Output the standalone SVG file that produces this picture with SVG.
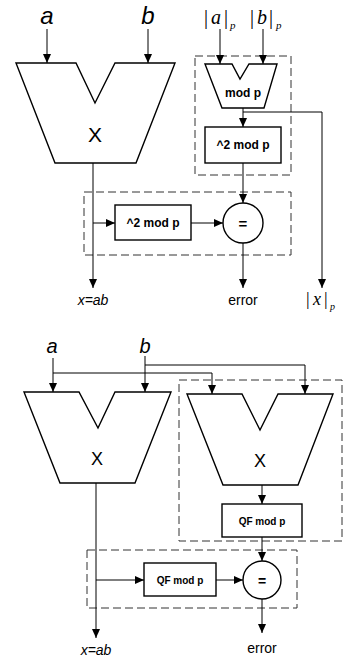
<svg xmlns="http://www.w3.org/2000/svg" width="344" height="659" viewBox="0 0 344 659">
<style>
.sh{fill:#fff;stroke:#000;stroke-width:1.4}
.ln{fill:none;stroke:#000;stroke-width:1}
.dash{fill:none;stroke:#333;stroke-width:1;stroke-dasharray:8,4}
.t{font-family:"Liberation Sans",Arial,sans-serif;fill:#000;text-anchor:middle}
.ti{font-family:"Liberation Sans",Arial,sans-serif;font-style:italic;fill:#000;text-anchor:middle}
.b{font-family:"Liberation Sans",Arial,sans-serif;font-weight:bold;fill:#000;text-anchor:middle}
.serif{font-family:"Liberation Serif","Times New Roman",serif;fill:#000}
</style>
<defs>
<marker id="ah" markerWidth="9" markerHeight="8" refX="9" refY="4" orient="auto" markerUnits="userSpaceOnUse">
<path d="M0,0 L9,4 L0,8 z" fill="#000"/>
</marker>
</defs>

<g id="groups">
<rect class="dash" x="84" y="192" width="207" height="63"/>
<rect class="dash" x="195" y="56" width="96" height="119"/>
<rect class="dash" x="87" y="550" width="210" height="58"/>
<rect class="dash" x="179" y="380" width="163" height="161"/>
</g>

<g id="connectors">
<line class="ln" x1="47" y1="29" x2="47" y2="63" marker-end="url(#ah)"/>
<line class="ln" x1="148" y1="29" x2="148" y2="63" marker-end="url(#ah)"/>
<line class="ln" x1="93" y1="163" x2="93" y2="288" marker-end="url(#ah)"/>
<line class="ln" x1="93" y1="223" x2="115" y2="223" marker-end="url(#ah)"/>
<line class="ln" x1="191" y1="223" x2="223" y2="223" marker-end="url(#ah)"/>
<line class="ln" x1="220" y1="29" x2="220" y2="64" marker-end="url(#ah)"/>
<line class="ln" x1="263" y1="29" x2="263" y2="64" marker-end="url(#ah)"/>
<line class="ln" x1="243" y1="108" x2="243" y2="127" marker-end="url(#ah)"/>
<polyline class="ln" points="243,112 322,112 322,288" marker-end="url(#ah)"/>
<line class="ln" x1="243" y1="163" x2="243" y2="203" marker-end="url(#ah)"/>
<line class="ln" x1="243" y1="243" x2="243" y2="288" marker-end="url(#ah)"/>

<line class="ln" x1="53" y1="358" x2="53" y2="392" marker-end="url(#ah)"/>
<line class="ln" x1="145" y1="356" x2="145" y2="392" marker-end="url(#ah)"/>
<polyline class="ln" points="53,373 212,373 212,394" marker-end="url(#ah)"/>
<polyline class="ln" points="145,365 305,365 305,394" marker-end="url(#ah)"/>
<line class="ln" x1="96" y1="483" x2="96" y2="638" marker-end="url(#ah)"/>
<line class="ln" x1="96" y1="580" x2="144" y2="580" marker-end="url(#ah)"/>
<line class="ln" x1="216" y1="580" x2="243" y2="580" marker-end="url(#ah)"/>
<line class="ln" x1="262" y1="485" x2="262" y2="504" marker-end="url(#ah)"/>
<line class="ln" x1="262" y1="537" x2="262" y2="561" marker-end="url(#ah)"/>
<line class="ln" x1="262" y1="599" x2="262" y2="633" marker-end="url(#ah)"/>
</g>

<g id="in-a1"><text class="ti" x="47" y="24" font-size="24">a</text></g>
<g id="in-b1"><text class="ti" x="148" y="24" font-size="24">b</text></g>
<g id="mult1">
<polygon class="sh" points="16,63 76,63 95,103 115,63 175,63 136,163 55,163"/>
<text class="t" x="95" y="142" font-size="21">X</text>
</g>
<g id="sq1"><rect class="sh" x="115" y="205" width="76" height="35"/><text class="b" x="153" y="227" font-size="12">^2 mod p</text></g>
<g id="eq1"><circle class="sh" cx="243" cy="223" r="20"/><text class="b" x="243" y="229" font-size="15">=</text></g>
<g id="in-ap"><text class="serif" fill="#000" font-size="20" y="24"><tspan x="204" fill="#000">|</tspan><tspan x="211" fill="#000" font-style="italic">a</tspan><tspan x="224" fill="#000">|</tspan><tspan x="230" y="29" fill="#000" font-size="11" font-style="italic">p</tspan></text></g>
<g id="in-bp"><text class="serif" fill="#000" font-size="20" y="24"><tspan x="250" fill="#000">|</tspan><tspan x="257" fill="#000" font-style="italic">b</tspan><tspan x="269" fill="#000">|</tspan><tspan x="276" y="29" fill="#000" font-size="11" font-style="italic">p</tspan></text></g>
<g id="multp">
<polygon class="sh" points="205,64 232,64 240,79 249,64 277,64 264,108 222,108"/>
<text class="b" x="243" y="97" font-size="12">mod p</text>
</g>
<g id="sq2"><rect class="sh" x="205" y="127" width="76" height="36"/><text class="b" x="243" y="149" font-size="12">^2 mod p</text></g>
<g id="out-x1"><text class="ti" x="93" y="305" font-size="14">x=ab</text></g>
<g id="out-err1"><text class="t" x="243" y="305" font-size="14">error</text></g>
<g id="out-xp"><text class="serif" fill="#000" font-size="18" y="305"><tspan x="306" fill="#000">|</tspan><tspan x="313" fill="#000" font-style="italic">x</tspan><tspan x="324" fill="#000">|</tspan><tspan x="330" y="310" fill="#000" font-size="10" font-style="italic">p</tspan></text></g>

<g id="in-a2"><text class="ti" x="52" y="353" font-size="20">a</text></g>
<g id="in-b2"><text class="ti" x="145" y="353" font-size="20">b</text></g>
<g id="mult2">
<polygon class="sh" points="24,392 79,392 98,428 115,392 171,392 135,483 60,483"/>
<text class="t" x="97" y="465" font-size="18">X</text>
</g>
<g id="mult3">
<polygon class="sh" points="187,394 242,394 260,430 278,394 333,394 298,485 223,485"/>
<text class="t" x="260" y="467" font-size="18">X</text>
</g>
<g id="qf1"><rect class="sh" x="144" y="563" width="72" height="33"/><text class="b" x="180" y="584" font-size="10">QF mod p</text></g>
<g id="qf2"><rect class="sh" x="222" y="504" width="80" height="33"/><text class="b" x="262" y="525" font-size="10">QF mod p</text></g>
<g id="eq2"><circle class="sh" cx="262" cy="580" r="19"/><text class="b" x="262" y="586" font-size="14">=</text></g>
<g id="out-x2"><text class="ti" x="96" y="655" font-size="14">x=ab</text></g>
<g id="out-err2"><text class="t" x="262" y="653" font-size="14">error</text></g>
</svg>
